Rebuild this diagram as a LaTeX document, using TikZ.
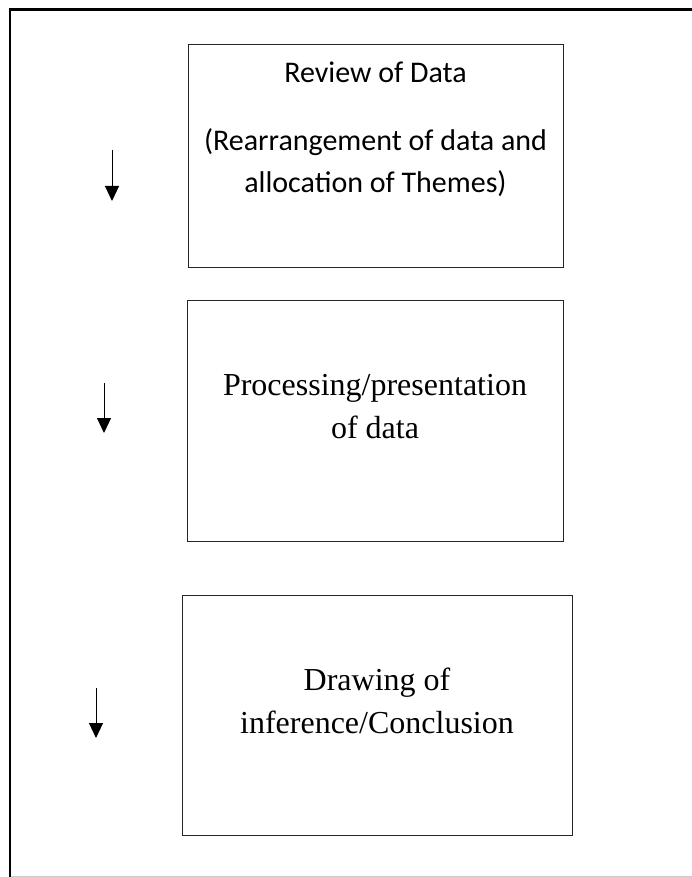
\documentclass[tikz,border=0pt]{standalone}
\usepackage{fontspec}
\setmainfont{Liberation Serif}
\newfontfamily\calibrilike{Carlito}
\usetikzlibrary{arrows.meta}

\tikzset{
  stagebox/.style={draw=black!85, line width=1pt, inner sep=0pt, anchor=north west},
  sanstext/.style={font=\calibrilike\fontsize{30}{36}\selectfont, anchor=base, inner sep=0pt},
  seriftext/.style={font=\fontsize{32}{38}\selectfont, anchor=base, inner sep=0pt},
  flowarrow/.style={line width=1pt, -{Triangle[width=14pt,length=15pt]}},
}

\begin{document}
\begin{tikzpicture}[x=1pt, y=-1pt]
  \useasboundingbox (0,0) rectangle (692,877);

  % page frame: heavy top and left rules, faint bottom rule
  \draw[line width=2.5pt] (692,9.5) -- (10,9.5) -- (10,877);
  \draw[black!20, line width=1pt] (11,876) -- (692,876);

  % stage 1
  \node[stagebox, minimum width=375pt, minimum height=223pt] (review) at (188,44) {};
  \node[sanstext] (reviewA) at (375.5,83) {Review of Data};
  \node[sanstext] (reviewB) at (375.5,151) {(Rearrangement of data and};
  \node[sanstext] (reviewC) at (375.5,193) {allocation of Themes)};

  % stage 2
  \node[stagebox, minimum width=376pt, minimum height=241pt] (process) at (187,300) {};
  \node[seriftext] (processA) at (375,395) {Processing/presentation};
  \node[seriftext] (processB) at (375,438) {of data};

  % stage 3
  \node[stagebox, minimum width=390pt, minimum height=240pt] (infer) at (182,595) {};
  \node[seriftext] (inferA) at (377,690) {Drawing of};
  \node[seriftext] (inferB) at (377,733) {inference/Conclusion};

  % downward arrows beside each stage
  \coordinate (a1s) at (112,150);
  \coordinate (a1e) at (112,201);
  \coordinate (a2s) at (104,383);
  \coordinate (a2e) at (104,433);
  \coordinate (a3s) at (96,688);
  \coordinate (a3e) at (96,738);
  \draw[flowarrow] (a1s) -- (a1e);
  \draw[flowarrow] (a2s) -- (a2e);
  \draw[flowarrow] (a3s) -- (a3e);
\end{tikzpicture}
\end{document}
